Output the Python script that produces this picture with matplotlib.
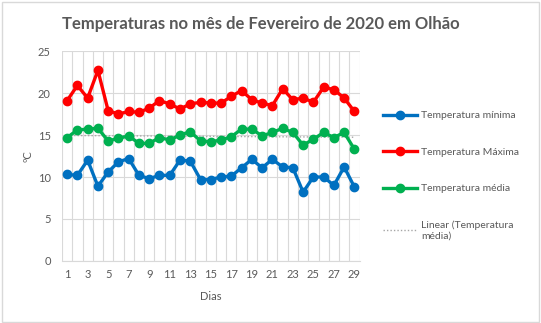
import numpy as np
import matplotlib
matplotlib.use('Agg')
import matplotlib.pyplot as plt
from matplotlib.patches import Rectangle

# Daily values (February 2020, Olhão)
days = list(range(1, 30))
temp_min = [10.3, 10.2, 12.0, 8.9, 10.6, 11.8, 12.2, 10.2, 9.8, 10.2,
            10.2, 12.0, 11.9, 9.7, 9.7, 10.0, 10.1, 11.1, 12.1, 11.1,
            12.1, 11.2, 11.1, 8.2, 10.0, 10.0, 9.0, 11.2, 8.8]
temp_max = [19.1, 20.9, 19.4, 22.7, 17.9, 17.5, 17.8, 17.7, 18.2, 19.1,
            18.7, 18.1, 18.7, 18.9, 18.8, 18.8, 19.6, 20.3, 19.2, 18.8,
            18.5, 20.5, 19.2, 19.4, 18.9, 20.7, 20.4, 19.4, 17.8]
temp_med = [14.7, 15.6, 15.7, 15.8, 14.3, 14.6, 14.9, 14.0, 14.0, 14.7,
            14.4, 15.0, 15.4, 14.3, 14.2, 14.4, 14.8, 15.7, 15.7, 14.9,
            15.3, 15.8, 15.3, 13.8, 14.5, 15.3, 14.7, 15.3, 13.3]

title = 'Temperaturas no mês de Fevereiro de 2020 em Olhão'
text_col = '#595959'
grid_col = '#D9D9D9'

plt.rcParams['font.family'] = ['Lato', 'DejaVu Sans']

fig = plt.figure(figsize=(5.41, 3.23), dpi=100)
ax = fig.add_axes([0.1146, 0.192, 0.550, 0.650])

# outer chart border
fig.patches.append(Rectangle((0.003, 0.004), 0.993, 0.991, transform=fig.transFigure,
                             fill=False, edgecolor=grid_col, linewidth=1))

ax.plot(days, temp_min, color='#0070C0', lw=2.4, marker='o', ms=6,
        label='Temperatura mínima', zorder=3)
ax.plot(days, temp_max, color='#FF0000', lw=2.4, marker='o', ms=6,
        label='Temperatura Máxima', zorder=3)
ax.plot(days, temp_med, color='#00B050', lw=2.4, marker='o', ms=6,
        label='Temperatura média', zorder=3)

# linear trendline of the mean temperature
coef = np.polyfit(days, temp_med, 1)
ax.plot(days, np.polyval(coef, days), color='#A6A6A6', lw=1, ls=(0, (1, 1.5)),
        label='Linear (Temperatura\nmédia)', zorder=2)

ax.set_xlim(0.5, 29.5)
ax.set_ylim(0, 25)
ax.set_yticks(range(0, 26, 5))
ax.set_xticks(range(1, 30, 2))
ax.set_xticks(np.arange(0.5, 30, 1), minor=True)
ax.grid(True, which='minor', axis='x', color=grid_col, lw=0.8)
ax.grid(True, which='major', axis='y', color=grid_col, lw=0.8)
ax.set_axisbelow(True)
for s in ax.spines.values():
    s.set_visible(False)
ax.spines['bottom'].set_visible(True)
ax.spines['bottom'].set_color(grid_col)
ax.tick_params(which='both', length=0, labelsize=8, colors=text_col)
ax.tick_params(axis='x', pad=6)
ax.tick_params(axis='y', pad=8)

ax.set_xlabel('Dias', fontsize=8, color=text_col, labelpad=8)
ax.set_ylabel('ºC', fontsize=8, color=text_col, labelpad=3)
fig.text(0.483, 0.925, title, ha='center', va='center', fontsize=12,
         fontweight='bold', color=text_col)

leg = fig.legend(loc='upper left', bbox_to_anchor=(0.69, 0.685), frameon=False,
                 fontsize=7.5, labelspacing=2.6, handlelength=3.3, handletextpad=0.4)
for t in leg.get_texts():
    t.set_color(text_col)

fig.savefig('out.png', dpi=100)
